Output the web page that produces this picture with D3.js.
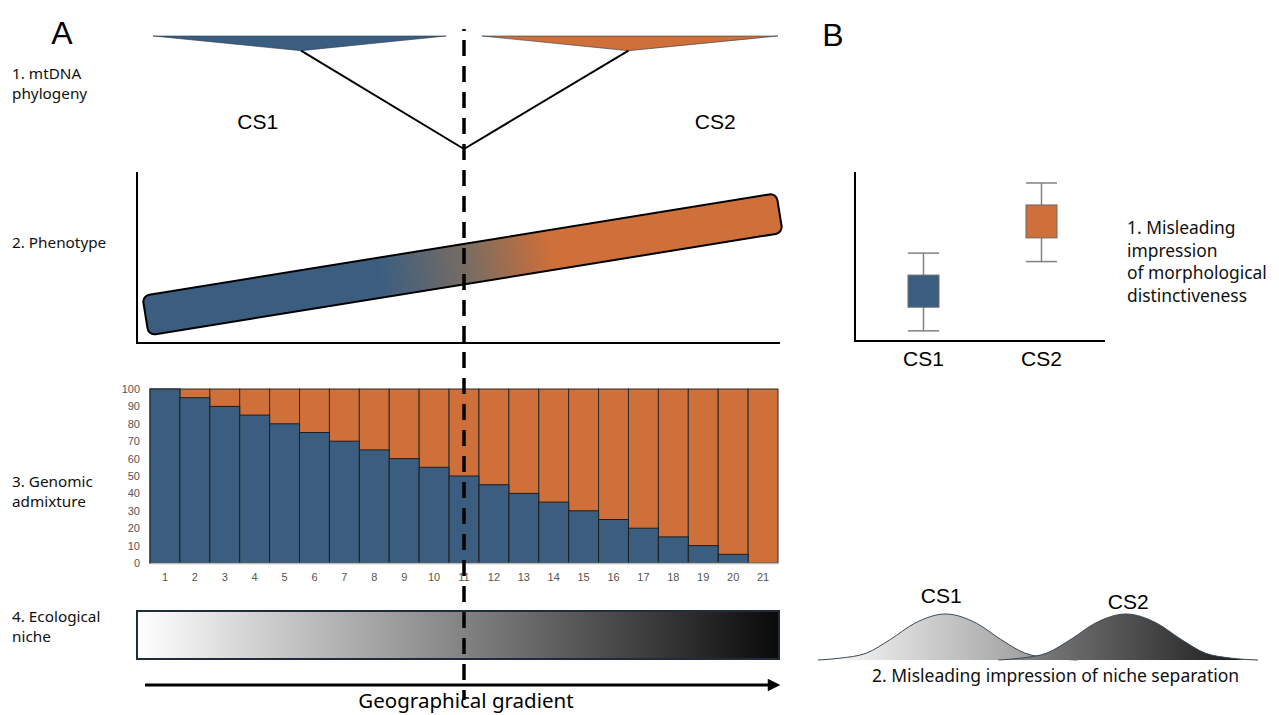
<!DOCTYPE html>
<html>
<head>
<meta charset="utf-8">
<script src="https://cdn.jsdelivr.net/npm/d3@7"></script>
<style>
  body { margin: 0; background: #fff; }
  svg { display: block; }
</style>
</head>
<body>
<div id="chart"></div>
<script>
// Données

// échantillons le long du gradient géographique
const samples = d3.range(1, 22);
// part d'ascendance CS1 (bleu) par échantillon, en %
const ancestryCS1 = [100, 95, 90, 85, 80, 75, 70, 65, 60, 55, 50, 45, 40, 35, 30, 25, 20, 15, 10, 5, 0];
const admixTicks = [0, 10, 20, 30, 40, 50, 60, 70, 80, 90, 100];

// phylogénie mtDNA : deux clades (étendue sur le gradient, position du noeud)
const clades = [
  { name: "CS1", from: 0.6, to: 10.4, node: 5.55, labelAt: 4.1 },
  { name: "CS2", from: 11.6, to: 21.5, node: 16.5, labelAt: 19.4 },
];
const rootAt = 11;
const treeDepth = { tips: 0, clade: 1.3, root: 10 };

// phénotype : extrémités de la barre (position gradient, valeur phénotype)
const phenoStart = [0.35, 1.6];
const phenoEnd = [21.55, 7.6];

// boxplots morphologiques (B1)
const boxCats = ["CS1", "CS2"];
const boxMin = [0.6, 4.7];
const boxQ1 = [2.0, 6.1];
const boxQ3 = [3.9, 8.05];
const boxMax = [5.2, 9.35];

// niches écologiques (B2) : points de la courbe (axe niche, densité)
const nicheCS1 = [[0, 0], [5, 0.04], [11, 0.15], [16.5, 0.45], [22, 0.8], [29, 1], [36, 0.8], [41.5, 0.45], [47, 0.15], [53, 0.04], [59, 0]];
const nicheCS2 = [[41, 0], [46, 0.04], [52, 0.15], [57.5, 0.45], [63, 0.8], [70, 1], [77, 0.8], [82.5, 0.45], [88, 0.15], [94, 0.04], [100, 0]];

//---------------------------------------------------------------------------------------

const blue = "#3b5e80";
const orange = "#cf6f39";
const W = 1279, H = 715;
const sans = "'Liberation Sans', Arial, sans-serif";
const label = "'Noto Sans', 'Open Sans', sans-serif";

const svg = d3.select("#chart").append("svg")
  .attr("width", W).attr("height", H)
  .attr("viewBox", [0, 0, W, H]);

const defs = svg.append("defs");

// échelle commune du gradient géographique (échantillons 1 à 21)
const geo = d3.scaleLinear().domain([0.5, 21.5]).range([150, 778]);

//---------------------------------------------------------------------------------------
// Titres de panneaux et libellés de gauche

svg.append("text").attr("x", 62).attr("y", 44).attr("text-anchor", "middle")
  .attr("font-family", sans).attr("font-size", 32).text("A");
svg.append("text").attr("x", 833).attr("y", 46).attr("text-anchor", "middle")
  .attr("font-family", sans).attr("font-size", 32).text("B");

const rowLabels = [
  { lines: ["1. mtDNA", "phylogeny"], y: 79 },
  { lines: ["2. Phenotype"], y: 248 },
  { lines: ["3. Genomic", "admixture"], y: 487 },
  { lines: ["4. Ecological", "niche"], y: 622 },
];
rowLabels.forEach(r => {
  const t = svg.append("text").attr("x", 12).attr("y", r.y)
    .attr("font-family", label).attr("font-size", 15.3).attr("fill", "#111");
  r.lines.forEach((l, i) => t.append("tspan").attr("x", 12).attr("dy", i ? 20 : 0).text(l));
});

//---------------------------------------------------------------------------------------
// 1. Phylogénie

const treeY = d3.scaleLinear().domain([0, 10]).range([36, 149]);
const cladeColor = { CS1: blue, CS2: orange };

clades.forEach(c => {
  svg.append("path")
    .attr("d", `M${geo(c.from)},${treeY(treeDepth.tips)}L${geo(c.to)},${treeY(treeDepth.tips)}L${geo(c.node)},${treeY(treeDepth.clade)}Z`)
    .attr("fill", cladeColor[c.name])
    .attr("stroke", "#2a3b4c").attr("stroke-width", 0.6);
  svg.append("line")
    .attr("x1", geo(c.node)).attr("y1", treeY(treeDepth.clade))
    .attr("x2", geo(rootAt)).attr("y2", treeY(treeDepth.root))
    .attr("stroke", "#000").attr("stroke-width", 2);
  svg.append("text").attr("x", geo(c.labelAt)).attr("y", 129)
    .attr("text-anchor", "middle").attr("font-family", sans).attr("font-size", 21)
    .text(c.name);
});

//---------------------------------------------------------------------------------------
// 2. Phénotype

const phenoY = d3.scaleLinear().domain([0, 10]).range([343, 172]);

svg.append("path")
  .attr("d", `M137,172V343H780`)
  .attr("fill", "none").attr("stroke", "#000").attr("stroke-width", 2);

const pg = defs.append("linearGradient").attr("id", "phenoGrad")
  .attr("x1", 0).attr("x2", 1).attr("y1", 0).attr("y2", 0);
pg.append("stop").attr("offset", "37%").attr("stop-color", blue);
pg.append("stop").attr("offset", "51%").attr("stop-color", "#7a6c62");
pg.append("stop").attr("offset", "64%").attr("stop-color", orange);

const px0 = geo(phenoStart[0]), py0 = phenoY(phenoStart[1]);
const px1 = geo(phenoEnd[0]), py1 = phenoY(phenoEnd[1]);
const barLen = Math.hypot(px1 - px0, py1 - py0);
const barAngle = Math.atan2(py1 - py0, px1 - px0) * 180 / Math.PI;
const thick = 40;

svg.append("rect")
  .attr("x", 0).attr("y", -thick / 2)
  .attr("width", barLen).attr("height", thick)
  .attr("rx", 7)
  .attr("transform", `translate(${px0},${py0}) rotate(${barAngle})`)
  .attr("fill", "url(#phenoGrad)")
  .attr("stroke", "#000").attr("stroke-width", 2);

//---------------------------------------------------------------------------------------
// 3. Admixture génomique

const xBand = d3.scaleBand().domain(samples).range([geo(0.5), geo(21.5)]).padding(0);
const yAdm = d3.scaleLinear().domain([0, 100]).range([563, 389]);

const gAdm = svg.append("g");
gAdm.selectAll(".orange").data(samples).join("rect")
  .attr("x", d => xBand(d)).attr("y", yAdm(100))
  .attr("width", xBand.bandwidth()).attr("height", yAdm(0) - yAdm(100))
  .attr("fill", orange).attr("stroke", "#2b2b2b").attr("stroke-width", 1);
gAdm.selectAll(".blue").data(samples).join("rect")
  .attr("x", d => xBand(d)).attr("y", (d, i) => yAdm(ancestryCS1[i]))
  .attr("width", xBand.bandwidth()).attr("height", (d, i) => yAdm(0) - yAdm(ancestryCS1[i]))
  .attr("fill", blue).attr("stroke", "#1e1e1e").attr("stroke-width", 1);

gAdm.append("g")
  .attr("transform", `translate(140,0)`)
  .call(d3.axisLeft(yAdm).tickValues(admixTicks).tickSize(0).tickPadding(0))
  .call(g => g.select(".domain").remove())
  .selectAll("text").attr("font-family", sans).attr("font-size", 11).attr("fill", "#555");

gAdm.append("g")
  .attr("transform", `translate(0,${yAdm(0)})`)
  .call(d3.axisBottom(xBand).tickSize(0).tickPadding(10))
  .call(g => g.select(".domain").attr("stroke", "#bbb").attr("stroke-width", 1.5))
  .selectAll("text").attr("font-family", sans).attr("font-size", 11).attr("fill", "#555");

//---------------------------------------------------------------------------------------
// 4. Niche écologique

const eg = defs.append("linearGradient").attr("id", "ecoGrad");
eg.append("stop").attr("offset", "0%").attr("stop-color", "#ffffff");
eg.append("stop").attr("offset", "100%").attr("stop-color", "#0a0a0a");

svg.append("rect").attr("x", 137).attr("y", 611).attr("width", 642).attr("height", 48)
  .attr("fill", "url(#ecoGrad)").attr("stroke", "#1f2d3b").attr("stroke-width", 2);

// flèche gradient géographique
defs.append("marker").attr("id", "arrow").attr("viewBox", "0 0 10 10")
  .attr("refX", 1).attr("refY", 5).attr("markerWidth", 5).attr("markerHeight", 4.2)
  .attr("orient", "auto").attr("markerUnits", "strokeWidth")
  .append("path").attr("d", "M0,0L10,5L0,10Z").attr("fill", "#000");

svg.append("line").attr("x1", 145).attr("x2", 769).attr("y1", 685).attr("y2", 685)
  .attr("stroke", "#000").attr("stroke-width", 3).attr("marker-end", "url(#arrow)");

svg.append("text").attr("x", 466).attr("y", 708).attr("text-anchor", "middle")
  .attr("font-family", label).attr("font-size", 20.5).text("Geographical gradient");

// ligne pointillée de la zone de contact
svg.append("line").attr("x1", geo(rootAt)).attr("x2", geo(rootAt))
  .attr("y1", 29).attr("y2", 700)
  .attr("stroke", "#000").attr("stroke-width", 3.5)
  .attr("stroke-dasharray", "2,9,16,10,16,10,16,10,16,10,16,10,16,10,16,10,16,10,16,10,16,10,16,10,16,10,16,10,16,10,16,10,16,10,16,10,16,10,16,10,16,10,16,10,16,10,16,10,16,10,16,10,16,10,16,10,16,10,16,10,16,10");

//---------------------------------------------------------------------------------------
// B1. Boxplots

const xBox = d3.scalePoint().domain(boxCats).range([923.5, 1041.5]);
const boxW = 31;
const yBox = d3.scaleLinear().domain([0, 10]).range([341, 172]);

svg.append("path").attr("d", "M855,172V341H1105")
  .attr("fill", "none").attr("stroke", "#000").attr("stroke-width", 2);

boxCats.forEach((c, i) => {
  const cx = xBox(c), x = cx - boxW / 2, w = boxW;
  const g = svg.append("g").attr("stroke", "#808080").attr("stroke-width", 1.5);
  g.append("line").attr("x1", cx).attr("x2", cx).attr("y1", yBox(boxMin[i])).attr("y2", yBox(boxMax[i]));
  g.append("line").attr("x1", x).attr("x2", x + w).attr("y1", yBox(boxMin[i])).attr("y2", yBox(boxMin[i]));
  g.append("line").attr("x1", x).attr("x2", x + w).attr("y1", yBox(boxMax[i])).attr("y2", yBox(boxMax[i]));
  g.append("rect").attr("x", x).attr("width", w)
    .attr("y", yBox(boxQ3[i])).attr("height", yBox(boxQ1[i]) - yBox(boxQ3[i]))
    .attr("fill", i ? orange : blue).attr("stroke", "#6b6b6b").attr("stroke-width", 1);
  svg.append("text").attr("x", cx).attr("y", 366).attr("text-anchor", "middle")
    .attr("font-family", sans).attr("font-size", 21).text(c);
});

const b1 = svg.append("text").attr("x", 1127).attr("y", 234)
  .attr("font-family", label).attr("font-size", 17.4).attr("fill", "#111");
["1. Misleading", "impression", "of morphological", "distinctiveness"].forEach((l, i) =>
  b1.append("tspan").attr("x", 1127).attr("dy", i ? 22.5 : 0).text(l));

//---------------------------------------------------------------------------------------
// B2. Niches

const xNiche = d3.scaleLinear().domain([0, 100]).range([818, 1258]);
const yNiche = d3.scaleLinear().domain([0, 1]).range([660, 614]);
const area = d3.area().x(d => xNiche(d[0])).y0(yNiche(0)).y1(d => yNiche(d[1])).curve(d3.curveMonotoneX);
const line = d3.line().x(d => xNiche(d[0])).y(d => yNiche(d[1])).curve(d3.curveMonotoneX);

const n1 = defs.append("linearGradient").attr("id", "n1");
n1.append("stop").attr("offset", "0%").attr("stop-color", "#ffffff");
n1.append("stop").attr("offset", "100%").attr("stop-color", "#8a8a8a");
const n2 = defs.append("linearGradient").attr("id", "n2");
n2.append("stop").attr("offset", "0%").attr("stop-color", "#8a8a8a");
n2.append("stop").attr("offset", "100%").attr("stop-color", "#151515");

[[nicheCS1, "n1"], [nicheCS2, "n2"]].forEach(([pts, id]) => {
  svg.append("path").attr("d", area(pts)).attr("fill", `url(#${id})`);
  svg.append("path").attr("d", line(pts)).attr("fill", "none")
    .attr("stroke", "#3b4a58").attr("stroke-width", 1);
});

svg.append("text").attr("x", xNiche(28)).attr("y", 603).attr("text-anchor", "middle")
  .attr("font-family", sans).attr("font-size", 21).text("CS1");
svg.append("text").attr("x", xNiche(70.5)).attr("y", 609).attr("text-anchor", "middle")
  .attr("font-family", sans).attr("font-size", 21).text("CS2");

svg.append("text").attr("x", 872).attr("y", 682)
  .attr("font-family", label).attr("font-size", 17.5).attr("fill", "#111")
  .text("2. Misleading impression of niche separation");
</script>
</body>
</html>
